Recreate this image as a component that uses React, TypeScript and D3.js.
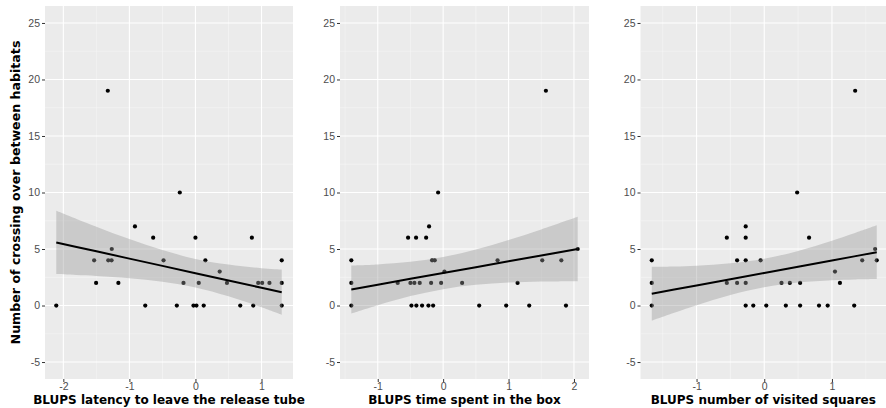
import * as d3 from 'd3';
import React, { useRef, useEffect } from 'react';

// values (x = BLUP score, y = number of crossings)
const latencyX = [-2.107, -1.534, -1.504, -1.327, -1.32, -1.27, -1.267, -1.167, -0.916, -0.76, -0.64, -0.483, -0.282, -0.237, -0.181, -0.03, 0.015, 0.0, 0.05, 0.125, 0.15, 0.367, 0.477, 0.678, 0.854, 0.875, 0.95, 1.01, 1.12, 1.306, 1.306, 1.306];
const latencyY = [0, 4, 2, 19, 4, 4, 5, 2, 7, 0, 6, 4, 0, 10, 2, 0, 0, 6, 2, 0, 4, 3, 2, 0, 6, 0, 2, 2, 2, 4, 2, 0];

const boxX = [-1.404, -1.404, -1.404, -0.695, -0.536, -0.5, -0.485, -0.44, -0.414, -0.409, -0.358, -0.322, -0.26, -0.225, -0.215, -0.184, -0.169, -0.153, -0.128, -0.077, -0.031, 0.02, 0.29, 0.551, 0.832, 0.964, 1.138, 1.316, 1.515, 1.571, 1.807, 1.878, 2.057];
const boxY = [4, 2, 0, 2, 6, 2, 0, 2, 6, 0, 2, 0, 6, 0, 7, 2, 4, 0, 4, 10, 2, 3, 2, 0, 4, 0, 2, 0, 4, 19, 4, 0, 5];

const squaresX = [-1.662, -1.662, -1.662, -0.553, -0.553, -0.401, -0.401, -0.274, -0.274, -0.274, -0.274, -0.274, -0.162, -0.054, 0.03, 0.255, 0.319, 0.378, 0.486, 0.53, 0.53, 0.662, 0.809, 0.937, 1.045, 1.118, 1.329, 1.343, 1.447, 1.638, 1.662];
const squaresY = [4, 2, 0, 6, 2, 4, 2, 7, 6, 4, 2, 0, 0, 4, 0, 2, 0, 2, 10, 2, 0, 6, 0, 0, 3, 2, 0, 19, 4, 5, 4];

// geom_smooth(method = "lm") line and 95% band
const latencySmoothX = [-2.107, -1.8, -1.5, -1.0, -0.5, 0, 0.5, 1.0, 1.306];
const latencyFit = [5.58, 5.18, 4.80, 4.15, 3.51, 2.86, 2.22, 1.57, 1.18];
const latencyLo = [2.78, 2.70, 2.62, 2.42, 2.11, 1.60, 0.82, -0.16, -0.82];
const latencyHi = [8.38, 7.66, 6.98, 5.88, 4.91, 4.12, 3.62, 3.30, 3.18];

const boxSmoothX = [-1.404, -1.0, -0.5, 0, 0.5, 1.0, 1.5, 2.057];
const boxFit = [1.42, 1.84, 2.36, 2.87, 3.39, 3.91, 4.42, 5.0];
const boxLo = [-0.71, 0.03, 0.84, 1.45, 1.83, 2.03, 2.12, 2.15];
const boxHi = [3.55, 3.64, 3.87, 4.29, 4.95, 5.79, 6.73, 7.85];

const squaresSmoothX = [-1.662, -1.33, -1.0, -0.5, 0, 0.5, 1.0, 1.33, 1.662];
const squaresFit = [1.04, 1.41, 1.77, 2.33, 2.88, 3.43, 3.99, 4.35, 4.72];
const squaresLo = [-1.34, -0.64, 0.03, 0.93, 1.62, 2.03, 2.24, 2.31, 2.35];
const squaresHi = [3.42, 3.45, 3.52, 3.73, 4.14, 4.83, 5.74, 6.40, 7.10];

const yTicks = [-5, 0, 5, 10, 15, 20, 25];
const yTitle = "Number of crossing over between habitats";

const panels = [
    { xs: latencyX, ys: latencyY, sx: latencySmoothX, fit: latencyFit, lo: latencyLo, hi: latencyHi, left: 45, right: 293, ticks: [-2, -1, 0, 1], minor: [-1.5, -0.5, 0.5], title: "BLUPS latency to leave the release tube" },
    { xs: boxX, ys: boxY, sx: boxSmoothX, fit: boxFit, lo: boxLo, hi: boxHi, left: 340, right: 589, ticks: [-1, 0, 1, 2], minor: [-1.5, -0.5, 0.5, 1.5], title: "BLUPS time spent in the box" },
    { xs: squaresX, ys: squaresY, sx: squaresSmoothX, fit: squaresFit, lo: squaresLo, hi: squaresHi, left: 640.5, right: 888, ticks: [-1, 0, 1], minor: [-1.5, -0.5, 0.5, 1.5], title: "BLUPS number of visited squares" },
];

function App() {
    const ref = useRef<SVGSVGElement>(null);

    useEffect(() => {
        const svg = d3.select(ref.current);
        svg.selectAll('*').remove();
        draw(svg);
    }, []);

    const draw = (svg: any) => {
        let top = 6, bottom = 379;
        let y = d3.scaleLinear().domain([-6.5, 26.5]).range([bottom, top]);
        let yMinor = d3.range(-2.5, 25, 5);

        panels.forEach(p => {
            const [lo, hi] = d3.extent(p.xs) as [number, number];
            const pad = (hi - lo) * 0.05;
            let x = d3.scaleLinear().domain([lo - pad, hi + pad]).range([p.left, p.right]);

            let g = svg.append("g");
            g.append("rect")
                .attr("x", p.left).attr("y", top)
                .attr("width", p.right - p.left).attr("height", bottom - top)
                .attr("fill", "#EBEBEB");

            // minor grid
            g.selectAll(".ymin").data(yMinor).enter().append("line")
                .attr("x1", p.left).attr("x2", p.right)
                .attr("y1", (d: number) => y(d)).attr("y2", (d: number) => y(d))
                .attr("stroke", "#F7F7F7").attr("stroke-width", 0.6);
            g.selectAll(".xmin").data(p.minor).enter().append("line")
                .attr("y1", top).attr("y2", bottom)
                .attr("x1", (d: number) => x(d)).attr("x2", (d: number) => x(d))
                .attr("stroke", "#F7F7F7").attr("stroke-width", 0.6);
            // major grid
            g.selectAll(".ymaj").data(yTicks).enter().append("line")
                .attr("x1", p.left).attr("x2", p.right)
                .attr("y1", (d: number) => y(d)).attr("y2", (d: number) => y(d))
                .attr("stroke", "white").attr("stroke-width", 1.1);
            g.selectAll(".xmaj").data(p.ticks).enter().append("line")
                .attr("y1", top).attr("y2", bottom)
                .attr("x1", (d: number) => x(d)).attr("x2", (d: number) => x(d))
                .attr("stroke", "white").attr("stroke-width", 1.1);

            // axes
            let yAxis = g.append("g")
                .attr("transform", "translate(" + p.left + ",0)")
                .call(d3.axisLeft(y).tickValues(yTicks).tickSize(3).tickPadding(2).tickFormat((d: any) => String(d)));
            let xAxis = g.append("g")
                .attr("transform", "translate(0," + bottom + ")")
                .call(d3.axisBottom(x).tickValues(p.ticks).tickSize(3).tickPadding(1).tickFormat((d: any) => String(d)));
            [yAxis, xAxis].forEach(ax => {
                ax.attr("font-family", null);
                ax.select(".domain").remove();
                ax.selectAll("line").attr("stroke", "#333333");
                ax.selectAll("text")
                    .attr("fill", "#4D4D4D")
                    .style("font-family", "'Liberation Sans', Arial, sans-serif")
                    .style("font-size", "10.5px");
            });

            g.append("text")
                .attr("x", (p.left + Math.min(p.right, 886)) / 2)
                .attr("y", 404)
                .attr("text-anchor", "middle")
                .attr("font-family", "DejaVu Sans, sans-serif")
                .attr("font-weight", "bold")
                .attr("font-size", "12px")
                .attr("fill", "black")
                .text(p.title);

            // points
            g.selectAll(".pt").data(p.xs).enter().append("circle")
                .attr("cx", (d: number) => x(d))
                .attr("cy", (d: number, i: number) => y(p.ys[i]))
                .attr("r", 2.1)
                .attr("fill", "black");

            // smooth band + line
            const idx = d3.range(p.sx.length);
            g.append("path")
                .datum(idx)
                .attr("d", d3.area<number>().curve(d3.curveCatmullRom)
                    .x(i => x(p.sx[i])).y0(i => y(p.lo[i])).y1(i => y(p.hi[i])))
                .attr("fill", "#999999")
                .attr("fill-opacity", 0.4);
            g.append("path")
                .datum(idx)
                .attr("d", d3.line<number>().x(i => x(p.sx[i])).y(i => y(p.fit[i])))
                .attr("fill", "none")
                .attr("stroke", "black")
                .attr("stroke-width", 2);
        });

        svg.append("text")
            .attr("transform", "translate(19.5," + ((top + bottom) / 2) + ") rotate(-90)")
            .attr("text-anchor", "middle")
            .attr("font-family", "DejaVu Sans, sans-serif")
            .attr("font-weight", "bold")
            .attr("font-size", "12.6px")
            .attr("fill", "black")
            .text(yTitle);
    }

    return (
        <div style={{ position: "absolute", left: 0, top: 0 }}>
            <svg ref={ref} width={886} height={408} style={{ display: "block", background: "white" }}></svg>
        </div>
    )
}

export default App;
